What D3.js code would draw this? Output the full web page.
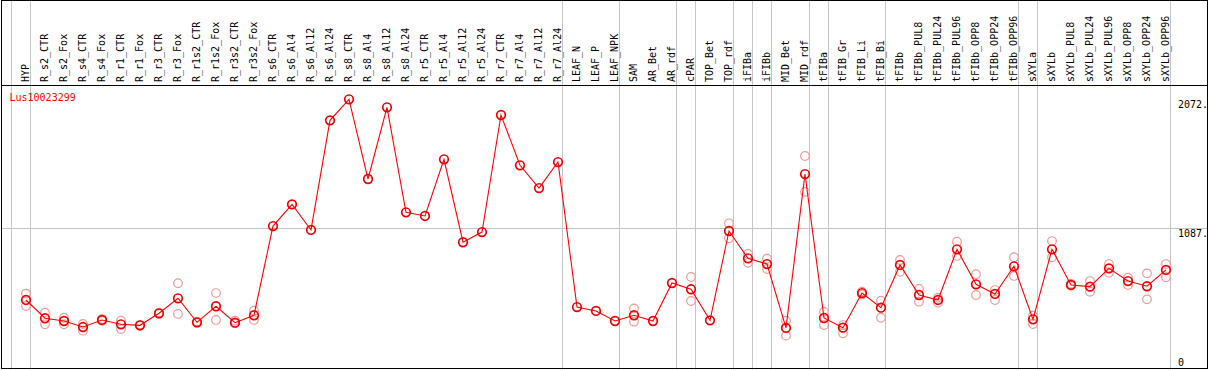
<!DOCTYPE html>
<html>
<head>
<meta charset="utf-8">
<script src="https://cdn.jsdelivr.net/npm/d3@7"></script>
<style>
  html, body { margin: 0; padding: 0; background: #fff; }
  svg { display: block; }
</style>
</head>
<body>
<svg id="chart" width="1209" height="370"></svg>
<script>
const geneId = "Lus10023299";

const categories = ["HYP","R_s2_CTR","R_s2_Fox","R_s4_CTR","R_s4_Fox","R_r1_CTR","R_r1_Fox","R_r3_CTR","R_r3_Fox",
  "R_r1s2_CTR","R_r1s2_Fox","R_r3s2_CTR","R_r3s2_Fox","R_s6_CTR","R_s6_Al4","R_s6_Al12","R_s6_Al24",
  "R_s8_CTR","R_s8_Al4","R_s8_Al12","R_s8_Al24","R_r5_CTR","R_r5_Al4","R_r5_Al12","R_r5_Al24",
  "R_r7_CTR","R_r7_Al4","R_r7_Al12","R_r7_Al24","LEAF_N","LEAF_P","LEAF_NPK","SAM","AR_Bet","AR_rdf",
  "cPAR","TOP_Bet","TOP_rdf","iFIBa","iFIBb","MID_Bet","MID_rdf","tFIBa","tFIB_Gr","tFIB_Li","tFIB_Bi",
  "tFIBb","tFIBb_PUL8","tFIBb_PUL24","tFIBb_PUL96","tFIBb_OPP8","tFIBb_OPP24","tFIBb_OPP96",
  "sXYLa","sXYLb","sXYLb_PUL8","sXYLb_PUL24","sXYLb_PUL96","sXYLb_OPP8","sXYLb_OPP24","sXYLb_OPP96"];

const means = [536,396,375,329,383,350,342,434,549,
  365,488,362,419,1102,1268,1072,1911,
  2072,1462,2011,1207,1179,1613,978,1056,
  1952,1567,1393,1592,482,452,375,419,375,666,
  618,380,1064,855,811,322,1500,398,324,589,477,
  804,574,536,924,656,582,794,
  388,924,651,638,778,681,641,766];

const replicates = [[585,490],[439,350],[400,350],[352,301],[390,376],[377,314],[346,338],[438,430],[664,429],
  [370,360],[589,383],[377,357],[454,383],[],[],[],[],
  [],[],[],[],[],[],[],[],
  [],[],[],[],[],[],[],[472,370],[],[],
  [712,528],[],[1123,1008],[888,821],[852,773],[377,263],[1638,1363],[446,344],[344,281],[600,578],[530,400],
  [842,752],[620,523],[553,515],[982,873],[733,574],[612,536],[863,720],
  [416,352],[987,863],[660,645],[681,599],[811,745],[707,651],[740,541],[811,710]];

// group boundaries: a grey separator line is drawn right after these category indices
const groupEnds = [-1,0,28,31,34,35,37,38,39,41,42,45,52,53,60];

const yMax = 2174;
const tickValues = [0, 1087, 2072];
const tickLabels = ["0", "1087.", "2072."];
const gridValues = [1087];

const W = 1209, H = 370;
const svg = d3.select("#chart");
const font = "'DejaVu Sans Mono', monospace";

const x = d3.scalePoint().domain(categories).range([26, 26 + 19 * (categories.length - 1)]);
const step = x.step();
const y = d3.scaleLinear().domain([0, yMax]).range([370, 86]);

// vertical group separators (full height)
svg.append("g").selectAll("line").data(groupEnds).join("line")
  .attr("x1", d => Math.round(26 + d * step + 4) + 0.5)
  .attr("x2", d => Math.round(26 + d * step + 4) + 0.5)
  .attr("y1", 0).attr("y2", H)
  .attr("stroke", "#c4c4c4").attr("stroke-width", 1);

// horizontal grid
svg.append("g").selectAll("line").data(gridValues).join("line")
  .attr("x1", 1).attr("x2", 1208)
  .attr("y1", d => Math.round(y(d)) + 0.5).attr("y2", d => Math.round(y(d)) + 0.5)
  .attr("stroke", "#c4c4c4").attr("stroke-width", 1);

// frame and header separator
svg.append("rect").attr("x", 1.5).attr("y", 0.5).attr("width", 1206).attr("height", 368)
  .attr("fill", "none").attr("stroke", "#000").attr("stroke-width", 1);
svg.append("line").attr("x1", 1).attr("x2", 1208).attr("y1", 85.5).attr("y2", 85.5)
  .attr("stroke", "#000").attr("stroke-width", 1);

// header labels
svg.append("g").selectAll("text").data(categories).join("text")
  .attr("transform", d => `translate(${x(d) + 3},82) rotate(-90)`)
  .attr("text-anchor", "start")
  .attr("font-family", font).attr("font-size", "10px").attr("fill", "#000")
  .text(d => d);

// gene id
svg.append("text").attr("x", 9.5).attr("y", 100.5)
  .attr("font-family", font).attr("font-size", "10px").attr("fill", "#ff0000")
  .text(geneId);

// y tick labels
svg.append("g").selectAll("text").data(tickValues).join("text")
  .attr("x", 1178)
  .attr("y", d => Math.min(y(d) + 9, 365.5))
  .attr("font-family", font).attr("font-size", "10px").attr("fill", "#000")
  .text((d, i) => tickLabels[i]);

// replicate circles
const repData = [];
replicates.forEach((reps, i) => reps.forEach(v => repData.push({c: categories[i], v})));
svg.append("g").selectAll("circle").data(repData).join("circle")
  .attr("cx", d => x(d.c)).attr("cy", d => y(d.v)).attr("r", 4.3)
  .attr("fill", "none").attr("stroke", "#ee9999").attr("stroke-width", 1.2);

// mean line
const line = d3.line().x((d, i) => x(categories[i])).y(d => y(d));
svg.append("path").datum(means).attr("d", line)
  .attr("fill", "none").attr("stroke", "#ff0000").attr("stroke-width", 1.1);

// mean circles
svg.append("g").selectAll("circle").data(means).join("circle")
  .attr("cx", (d, i) => x(categories[i])).attr("cy", d => y(d)).attr("r", 4.3)
  .attr("fill", "none").attr("stroke", "#ee0000").attr("stroke-width", 1.7);
</script>
</body>
</html>
